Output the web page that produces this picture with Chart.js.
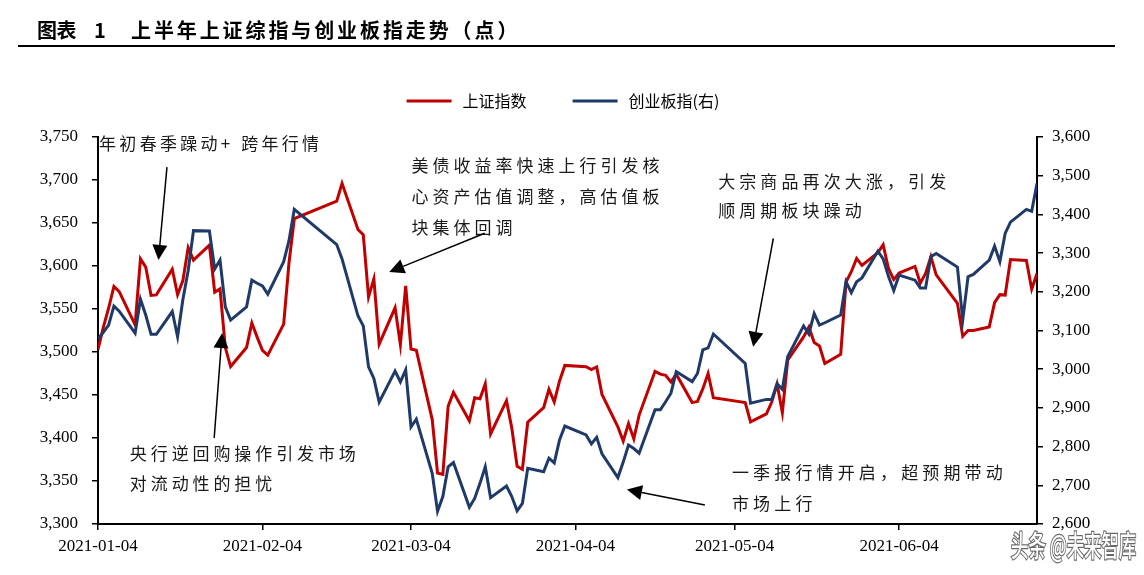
<!DOCTYPE html>
<html><head><meta charset="utf-8">
<script src="https://cdn.jsdelivr.net/npm/chart.js@4.4.1/dist/chart.umd.min.js"></script>
<style>html,body{margin:0;padding:0;background:#fff;}#wrap{width:1144px;height:575px;}</style>
</head><body><div id="wrap"><canvas id="c" width="1144" height="575"></canvas></div>
<script>
const titleLead = '图表';
const titleNum = '1';
const titleMain = '上半年上证综指与创业板指走势（点）';
const seriesNames = ['上证指数', '创业板指(右)'];
const watermark = '头条 @未来智库';

const dates = [
'01-04','01-05','01-06','01-07','01-08','01-11','01-12','01-13','01-14','01-15',
'01-18','01-19','01-20','01-21','01-22','01-25','01-26','01-27','01-28','01-29',
'02-01','02-02','02-03','02-04','02-05','02-08','02-09','02-10','02-18','02-19',
'02-22','02-23','02-24','02-25','02-26',
'03-01','03-02','03-03','03-04','03-05','03-08','03-09','03-10','03-11','03-12',
'03-15','03-16','03-17','03-18','03-19','03-22','03-23','03-24','03-25','03-26',
'03-29','03-30','03-31',
'04-01','04-02','04-06','04-07','04-08','04-09','04-12','04-13','04-14','04-15','04-16',
'04-19','04-20','04-21','04-22','04-23','04-26','04-27','04-28','04-29','04-30',
'05-06','05-07','05-10','05-11','05-12','05-13','05-14','05-17','05-18','05-19','05-20','05-21',
'05-24','05-25','05-26','05-27','05-28','05-31',
'06-01','06-02','06-03','06-04','06-07','06-08','06-09','06-10','06-11','06-15','06-16','06-17','06-18',
'06-21','06-22','06-23','06-24','06-25','06-28','06-29','06-30'];

const shValues = [
3502.96,3528.68,3550.88,3576.20,3570.11,3531.50,3608.34,3598.65,3565.90,3566.38,
3596.22,3566.65,3583.09,3621.26,3606.75,3624.24,3569.43,3573.34,3505.18,3483.07,
3505.28,3533.68,3517.31,3501.86,3496.33,3532.44,3603.49,3655.09,3675.36,3696.17,
3642.44,3636.36,3564.08,3585.05,3509.08,
3551.40,3508.59,3576.90,3503.49,3501.99,3421.41,3359.29,3357.74,3436.83,3453.08,
3419.95,3446.73,3445.55,3463.07,3404.66,3443.44,3411.51,3367.06,3363.59,3418.33,
3435.30,3456.68,3441.91,
3466.33,3484.39,3482.85,3479.63,3482.56,3450.68,3412.95,3396.47,3416.86,3398.99,3426.62,
3477.55,3474.22,3472.94,3465.11,3474.17,3441.17,3442.61,3457.07,3474.90,3446.86,
3441.28,3418.87,3427.99,3441.85,3462.75,3429.54,3490.38,3517.62,3529.01,3510.96,3506.94,3486.56,
3497.28,3581.34,3593.36,3608.85,3600.78,3615.48,
3624.71,3597.14,3584.22,3591.84,3599.54,3580.11,3591.40,3610.86,3589.75,3556.56,3518.33,3525.10,3525.10,
3529.18,3557.41,3566.65,3566.22,3607.56,3606.37,3573.18,3591.20];

const cyValues = [
3078,3095,3114,3163,3150,3093,3181,3140,3090,3090,
3149,3084,3180,3255,3358,3357,3259,3282,3161,3127,
3161,3230,3222,3215,3194,3278,3332,3413,3322,3285,
3138,3112,3006,2976,2915,
2995,2967,2998,2851,2871,2731,2633,2671,2748,2759,
2643,2666,2705,2748,2668,2698,2671,2634,2653,2744,
2735,2770,2758,
2817,2853,2830,2807,2824,2781,2720,2760,2804,2795,2783,
2895,2895,2916,2938,2994,2968,2989,3050,3055,3091,
3015,2912,2922,2922,2962,2948,3032,3112,3091,3144,3114,3120,
3140,3226,3198,3226,3236,3305,
3285,3240,3203,3243,3230,3210,3210,3291,3299,3264,3127,3239,3245,
3282,3318,3278,3351,3380,3413,3408,3480];

const xTickLabels = ['2021-01-04','2021-02-04','2021-03-04','2021-04-04','2021-05-04','2021-06-04'];
const leftAxis = {min:3300, max:3750, step:50};
const rightAxis = {min:2600, max:3600, step:100};

function dayOf(s){
  const p = s.split('-').map(Number);
  const m = p.length === 3 ? p[1] : p[0];
  const d = p.length === 3 ? p[2] : p[1];
  return Math.round((Date.UTC(2021, m - 1, d) - Date.UTC(2021, 0, 4)) / 864e5);
}

// annotation layout (x in days from start, y in left-axis units)
const notes = [
  {lines:['年初春季躁动+跨年行情'], x:0.2, y:[3742], adv:20.3},
  {lines:['美债收益率快速上行引发核','心资产估值调整，高估值板','块集体回调'], x:59.1, y:[3717,3681,3645], adv:21.0},
  {lines:['大宗商品再次大涨，引发','顺周期板块躁动'], x:116.9, y:[3698,3664], adv:21.1},
  {lines:['一季报行情开启，超预期带动','市场上行'], x:119.5, y:[3360,3324], adv:21.15},
  {lines:['央行逆回购操作引发市场','对流动性的担忧'], x:6.0, y:[3382,3347], adv:20.9}
];
const arrows = [
  {from:[13.0,3715], to:[11.4,3607]},
  {from:[72.9,3638], to:[54.9,3593]},
  {from:[127.3,3632], to:[123.5,3506]},
  {from:[114.4,3322], to:[99.7,3340]},
  {from:[21.9,3400], to:[23.4,3522]}
];

const RED = '#C00000', BLUE = '#1F3A68';
const CJK = '"Noto Sans CJK SC", "Noto Sans", sans-serif';

function spaced(c, text, x, y, adv){
  let i = 0;
  for (const ch of text){ c.fillText(ch, x + i * adv, y); i++; }
}

const decor = {
  id:'decor',
  afterDraw(chart){
    const c = chart.ctx, xs = chart.scales.x, ys = chart.scales.y;
    const px = d => xs.getPixelForValue(d), py = v => ys.getPixelForValue(v);
    c.save();
    // title
    c.fillStyle = '#000'; c.textBaseline = 'middle'; c.textAlign = 'left';
    c.font = '700 20px ' + CJK;
    spaced(c, titleLead, 37, 30, 19.5);
    c.fillText(titleNum, 94, 30);
    spaced(c, titleMain, 131, 30, 22.9);
    c.fillRect(18, 45, 1097, 2);
    // legend
    c.font = '400 16px ' + CJK;
    const lineLen = 45, gapT = 11, gapItem = 46;
    const ds = chart.data.datasets;
    const widths = ds.map(d => lineLen + gapT + c.measureText(d.label).width);
    const total = widths.reduce((a,b)=>a+b,0) + gapItem * (ds.length - 1);
    let lx = 563 - total / 2;
    const ly = 101;
    ds.forEach((d, i) => {
      c.strokeStyle = d.borderColor; c.lineWidth = 3;
      c.beginPath(); c.moveTo(lx, ly); c.lineTo(lx + lineLen, ly); c.stroke();
      c.fillStyle = '#000';
      c.fillText(d.label, lx + lineLen + gapT, ly);
      lx += widths[i] + gapItem;
    });
    // notes
    c.font = '400 17px ' + CJK;
    c.fillStyle = '#1a1a1a';
    notes.forEach(n => {
      n.lines.forEach((t, k) => spaced(c, t, px(n.x), py(n.y[k]), n.adv));
    });
    // arrows
    c.strokeStyle = '#000'; c.fillStyle = '#000'; c.lineWidth = 1.5;
    arrows.forEach(a => {
      const x1 = px(a.from[0]), y1 = py(a.from[1]), x2 = px(a.to[0]), y2 = py(a.to[1]);
      const ang = Math.atan2(y2 - y1, x2 - x1), L = 15, W = 7.5;
      const bx = x2 - L * Math.cos(ang), by = y2 - L * Math.sin(ang);
      c.beginPath(); c.moveTo(x1, y1); c.lineTo(bx, by); c.stroke();
      c.beginPath();
      c.moveTo(x2, y2);
      c.lineTo(bx + W * Math.sin(ang), by - W * Math.cos(ang));
      c.lineTo(bx - W * Math.sin(ang), by + W * Math.cos(ang));
      c.closePath(); c.fill();
    });
    // watermark (horizontally condensed)
    c.save();
    c.translate(1011, 546);
    c.scale(0.6, 1);
    c.font = '500 29px ' + CJK;
    c.textBaseline = 'middle';
    c.lineWidth = 2.5; c.strokeStyle = 'rgba(40,40,40,0.7)';
    c.strokeText(watermark, 0, 0);
    c.fillStyle = '#fff';
    c.fillText(watermark, 0, 0);
    c.restore();
    c.restore();
  }
};

const tickFont = {family:'"Liberation Serif", "Times New Roman", serif', size:17};
const fmt = v => Number(v).toLocaleString('en-US');

new Chart(document.getElementById('c'), {
  type:'line',
  data:{
    datasets:[
      {label:seriesNames[0], data:dates.map((d,i)=>({x:dayOf(d), y:shValues[i]})), yAxisID:'y',
       borderColor:RED, backgroundColor:RED, borderWidth:3, pointRadius:0, tension:0, order:1},
      {label:seriesNames[1], data:dates.map((d,i)=>({x:dayOf(d), y:cyValues[i]})), yAxisID:'y1',
       borderColor:BLUE, backgroundColor:BLUE, borderWidth:3, pointRadius:0, tension:0, order:0}
    ]
  },
  options:{
    responsive:false, animation:false, events:[],
    layout:{padding:{top:137, left:0, right:0, bottom:0}},
    plugins:{legend:{display:false}, tooltip:{enabled:false}, title:{display:false}},
    scales:{
      x:{type:'linear', min:0, max:dayOf(dates[dates.length-1]),
         afterBuildTicks:s => { s.ticks = xTickLabels.map(l => ({value:dayOf(l)})); },
         afterFit:s => { s.height = 51; },
         ticks:{callback:(v,i)=>xTickLabels[i], autoSkip:false, maxRotation:0, color:'#000', font:tickFont, padding:6},
         grid:{drawOnChartArea:false, drawTicks:true, tickLength:6, color:'#000', lineWidth:1.5},
         border:{display:true, color:'#000', width:2}},
      y:{position:'left', min:leftAxis.min, max:leftAxis.max,
         afterFit:s => { s.width = 98; },
         ticks:{stepSize:leftAxis.step, callback:fmt, color:'#000', font:tickFont, padding:14},
         grid:{drawOnChartArea:false, drawTicks:true, tickLength:6, color:'#000', lineWidth:1.5},
         border:{display:true, color:'#000', width:2}},
      y1:{position:'right', min:rightAxis.min, max:rightAxis.max,
         afterFit:s => { s.width = 107; },
         ticks:{stepSize:rightAxis.step, callback:fmt, color:'#000', font:tickFont, padding:9},
         grid:{drawOnChartArea:false, drawTicks:true, tickLength:6, color:'#000', lineWidth:1.5},
         border:{display:true, color:'#000', width:2}}
    }
  },
  plugins:[decor]
});
</script></body></html>
